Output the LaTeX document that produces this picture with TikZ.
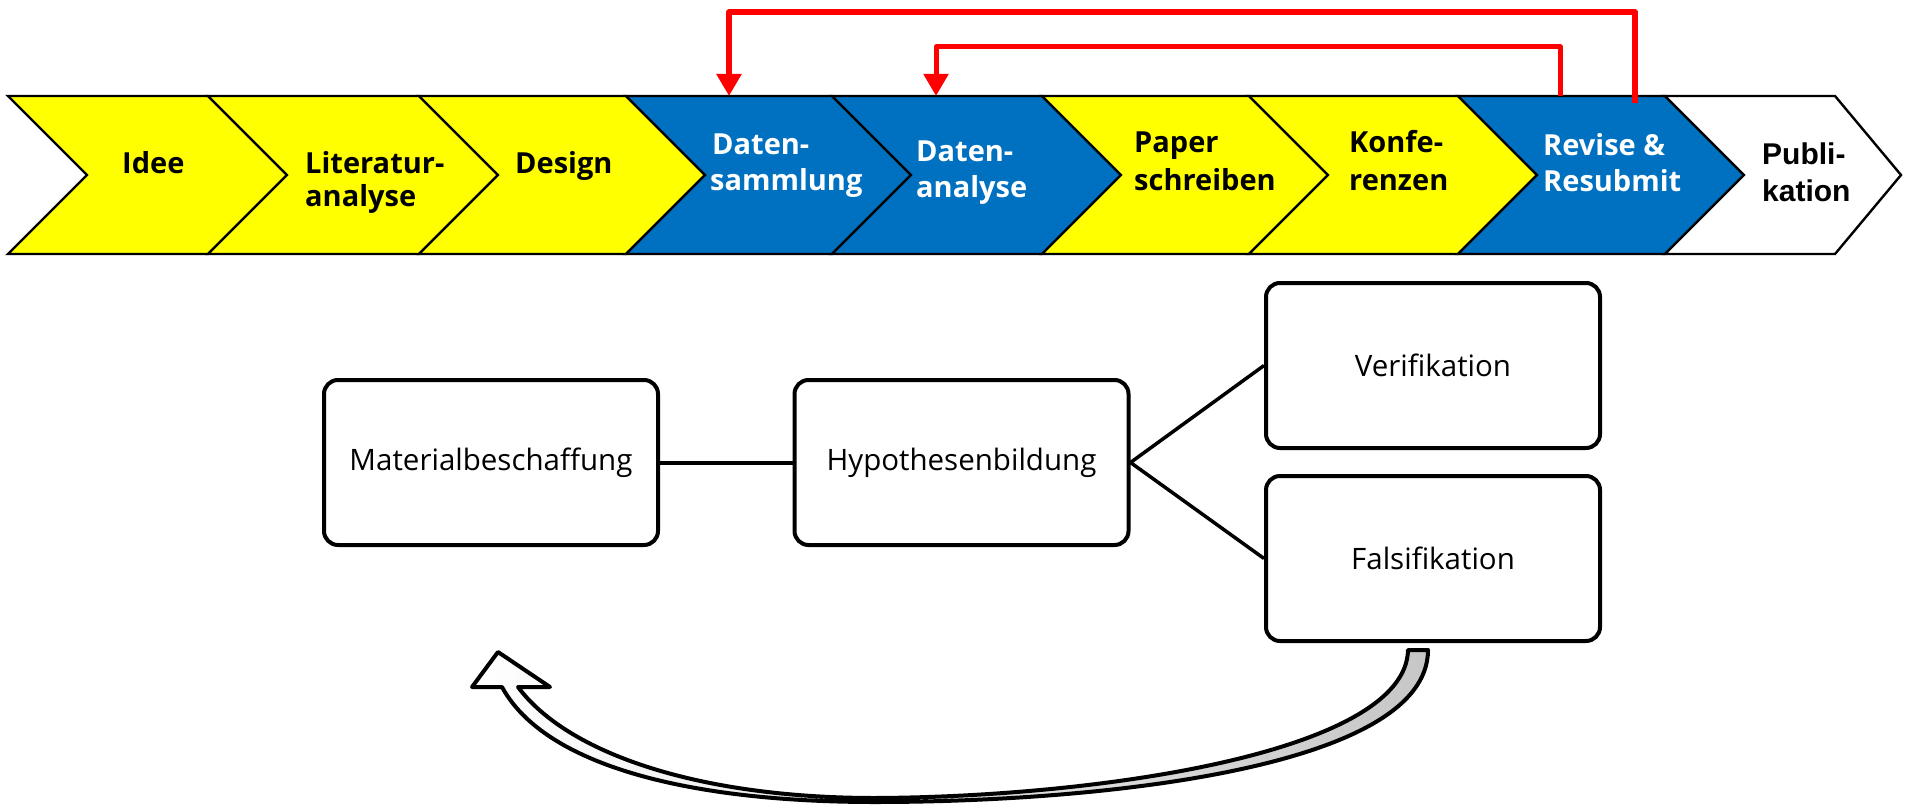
\documentclass[tikz,border=0pt]{standalone}
\usepackage{fontspec}
\newfontfamily\osans{Open Sans}
\newfontfamily\arsans{Liberation Sans}
\usetikzlibrary{arrows.meta}
\definecolor{chevyellow}{HTML}{FFFF00}
\definecolor{chevblue}{HTML}{0070C0}
\definecolor{loopred}{HTML}{FF0000}

% one chevron: left x, right x, tip depth, fill colour
\newcommand\chevron[4]{%
  \filldraw[chev, fill=#4] (#1,96) -- (#2,96) -- ({#2+#3},175) -- (#2,254)
    -- (#1,254) -- ({#1+79},175) -- cycle;}

\begin{document}
\begin{tikzpicture}[x=1pt, y=-1pt,
  chev/.style={draw=black, line width=2.4pt, line join=miter},
  lbl/.style={anchor=base west, inner sep=0pt,
    font=\osans\bfseries\fontsize{29}{33}\selectfont},
  lblw/.style={lbl, text=white},
  lbla/.style={anchor=base west, inner sep=0pt,
    font=\arsans\bfseries\fontsize{30}{34}\selectfont},
  box/.style={draw, line width=4pt, rounded corners=14pt,
    minimum width=334pt, minimum height=165pt, inner sep=0pt,
    font=\osans\fontsize{29.5}{34}\selectfont},
  link/.style={line width=4pt},
  redline/.style={draw=loopred, line width=5.5pt, line join=round,
    -{Triangle[length=22pt,width=24pt]}},
  looparrow/.style={draw=black, line width=4pt, line join=round,
    left color=white, right color=black!22}]

\useasboundingbox[fill=white] (0,0) rectangle (1905,805);

% process chain
\chevron{8}{208}{79}{chevyellow}
\chevron{208}{419}{79}{chevyellow}
\chevron{419}{626}{79}{chevyellow}
\chevron{626}{832}{79}{chevblue}
\chevron{832}{1042}{79}{chevblue}
\chevron{1042}{1249}{79}{chevyellow}
\chevron{1249}{1458}{79}{chevyellow}
\chevron{1458}{1665}{79}{chevblue}
\chevron{1665}{1835}{66}{white}

% chevron labels
\node[lbl]  (idee)  at (122,174) {Idee};
\node[lbl]  (lit1)  at (305,174) {Literatur-};
\node[lbl]  (lit2)  at (305,207) {analyse};
\node[lbl]  (des)   at (515,174) {Design};
\node[lblw] (ds1)   at (712,155) {Daten-};
\node[lblw] (ds2)   at (710,191) {sammlung};
\node[lblw] (da1)   at (916,162) {Daten-};
\node[lblw] (da2)   at (916,197) {analyse};
\node[lbl]  (pap1)  at (1134,153) {Paper};
\node[lbl]  (pap2)  at (1134,190) {schreiben};
\node[lbl]  (kon1)  at (1349,153) {Konfe-};
\node[lbl]  (kon2)  at (1349,190) {renzen};
\node[lblw] (rev1)  at (1543,156) {Revise \&};
\node[lblw] (rev2)  at (1543,192) {Resubmit};
\node[lbla] (pub1)  at (1762,165) {Publi-};
\node[lbla] (pub2)  at (1762,201) {kation};

% feedback loops from revision back into data work
\coordinate (sammelIn)  at (729,96);
\coordinate (analyseIn) at (936,96);
\coordinate (revOutA)   at (1635,103);
\coordinate (revOutB)   at (1560,96);
\draw[redline] (revOutA) -- ++(0,-91) -| (sammelIn);
\draw[redline, line width=5pt] (revOutB) -- ++(0,-49) -| (analyseIn);

% research cycle
\node[box] (mat) at (491,462.5)  {Materialbeschaffung};
\node[box] (hyp) at (961.5,462.5) {Hypothesenbildung};
\node[box] (ver) at (1433,365.5) {Verifikation};
\node[box] (fal) at (1433,558.5) {Falsifikation};

\draw[link] (mat.east) -- (hyp.west);
\draw[link, line width=3.5pt] (hyp.east) -- (ver.west);
\draw[link, line width=3.5pt] (hyp.east) -- (fal.west);

% curved return arrow, tapering towards the bottom
\draw[looparrow]
  (1408,650) .. controls (1406,752) and (1100,797) .. (875,798)
  .. controls (700,798) and (568,754) .. (518,687)
  -- (550,687) -- (498,652) -- (472,687) -- (502,687)
  .. controls (545,766) and (690,802) .. (875,802)
  .. controls (1100,802) and (1428,768) .. (1428,650) -- cycle;

\end{tikzpicture}
\end{document}
